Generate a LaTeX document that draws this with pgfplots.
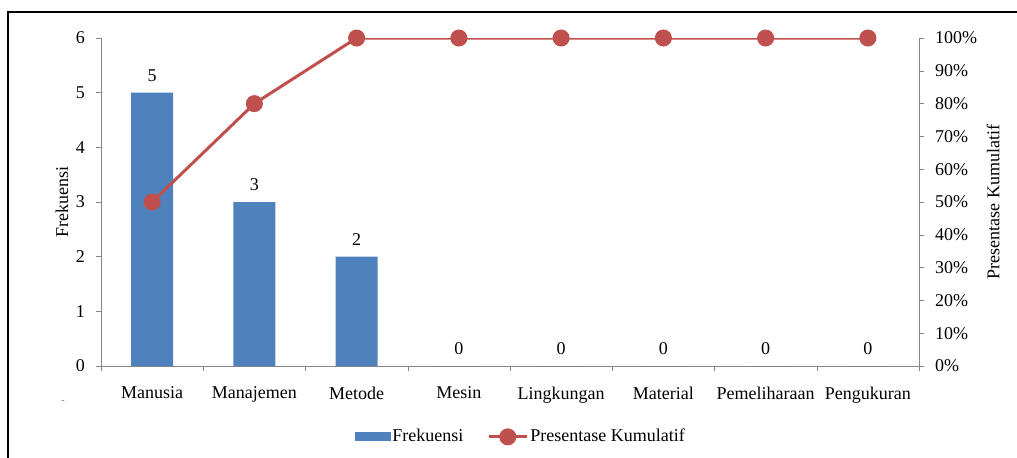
\documentclass[border=0pt]{standalone}
\usepackage{fontspec}
\setmainfont{Liberation Serif}
\usepackage{pgfplots}
\pgfplotsset{compat=1.18}
\definecolor{barblue}{RGB}{79,129,189}
\definecolor{linered}{RGB}{192,80,77}
\definecolor{axgray}{RGB}{134,134,134}
\definecolor{dashpink}{RGB}{180,80,180}
\pgfplotsset{
  /pgf/number format/assume math mode=true,
  common/.style={
    scale only axis, width=409pt, height=164pt,
    xmin=-0.5, xmax=7.5,
    axis line style={draw=axgray,-},
    tick align=outside, tick style={draw=axgray},
    major tick length=2.5pt, minor tick length=2.5pt,
  },
  mylinelegend/.style={
    legend image code/.code={\draw[mark repeat=2,mark phase=2,##1] plot coordinates {(0pt,0pt)(9.5pt,0pt)(19pt,0pt)};}
  },
}
\begin{document}
\begin{tikzpicture}[font=\fontsize{9}{11}\selectfont]
\useasboundingbox (-50.5pt,-45.5pt) rectangle (458pt,183pt);
\begin{axis}[
    common,
    ymin=0, ymax=6,
    axis x line*=bottom, axis y line*=left,
    xtick={0,...,7},
    xticklabels={Manusia,Manajemen,Metode,Mesin,Lingkungan,Material,Pemeliharaan,Pengukuran},
    major x tick style={draw=none},
    minor xtick={-0.5,0.5,...,7.5},
    xticklabel style={yshift=-4.5pt},
    ytick={0,1,...,6},
    yticklabel style={xshift=-2pt},
    ylabel={Frekuensi},
    ylabel style={at={(axis description cs:-0.0477,0.5)}, anchor=center},
    ybar, bar width=21pt,
    nodes near coords,
    nodes near coords style={yshift=2pt, text=black},
  ]
  \addplot[fill=barblue, draw=none]
    coordinates {(0,5)(1,3)(2,2)(3,0)(4,0)(5,0)(6,0)(7,0)};
\end{axis}
\begin{axis}[
    common,
    ymin=0, ymax=100,
    axis x line=none, axis y line*=right,
    ytick={0,10,...,100},
    yticklabel={\pgfmathprintnumber{\tick}\%},
    yticklabel style={xshift=2pt},
    ylabel={Presentase Kumulatif},
    ylabel style={at={(axis description cs:1.0905,0.5)}, anchor=center},
    legend columns=2,
    legend style={at={(0.513,-0.216)}, anchor=center, draw=none, fill=none,
      nodes={inner xsep=1pt},
      /tikz/every even column/.append style={column sep=11pt}},
  ]
  \addlegendimage{legend image code/.code={\fill[barblue] (0pt,-2pt) rectangle (17.5pt,2pt);}}
  \addlegendentry{Frekuensi}
  \addplot[color=linered, line width=1.5pt, mark=*, mark size=3.5pt, mylinelegend]
    coordinates {(0,50)(1,80)(2,100)(3,100)(4,100)(5,100)(6,100)(7,100)};
  \addlegendentry{Presentase Kumulatif}
\end{axis}
\draw[line width=1pt] (-46.5pt,-60pt) -- (-46.5pt,177.2pt) -- (470pt,177.2pt);
\node[text=dashpink, font=\tiny] at (-19pt,-18pt) {-};
\end{tikzpicture}
\end{document}
